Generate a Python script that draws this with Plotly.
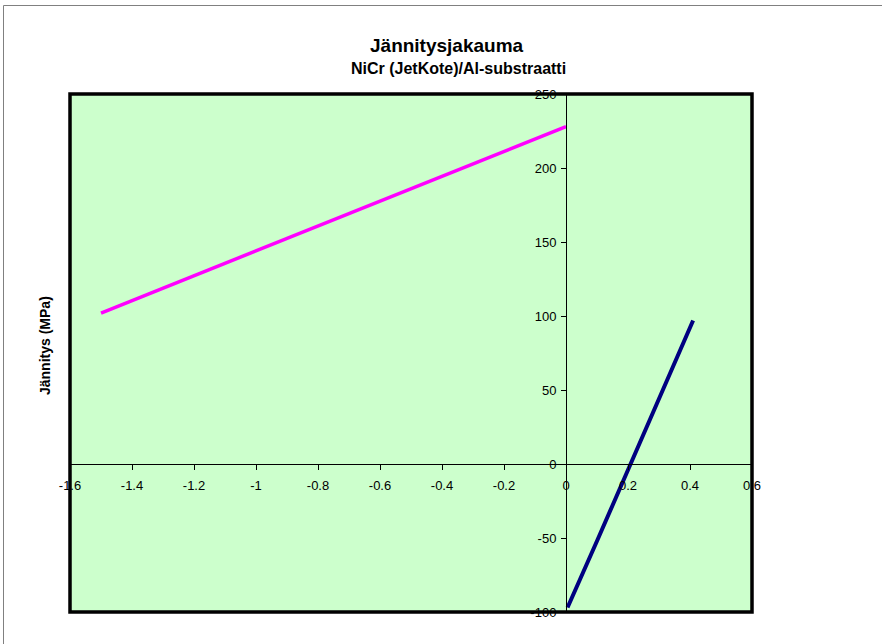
import plotly.graph_objects as go

# Data
coat_x = [-1.5, -1.0, -0.5, 0.0]
coat_y = [102, 144, 186, 228]
sub_x = [0.005, 0.05, 0.1, 0.15, 0.2, 0.25, 0.3, 0.35, 0.41]
sub_y = [-97, -75, -52, -28, -4, 20, 44, 68, 97]
x_ticks = [-1.6, -1.4, -1.2, -1, -0.8, -0.6, -0.4, -0.2, 0, 0.2, 0.4, 0.6]
y_ticks = [-100, -50, 0, 50, 100, 150, 200, 250]

title = "Jännitysjakauma"
subtitle = "NiCr (JetKote)/Al-substraatti"
y_title = "Jännitys (MPa)"

W, H = 882, 644
L, R, T, B = 70, 130, 94, 32
pw, ph = W - L - R, H - T - B

def px_x(px):
    return (px - L) / pw

def px_y(py):
    return (H - B - py) / ph

fig = go.Figure()
fig.add_trace(go.Scatter(x=coat_x, y=coat_y, mode="lines",
                         line=dict(color="#FF00FF", width=3.5), showlegend=False))
fig.add_trace(go.Scatter(x=sub_x, y=sub_y, mode="lines",
                         line=dict(color="#000080", width=4), showlegend=False))

xr = [-1.6, 0.6]
yr = [-100, 250]
fig.update_layout(
    width=W, height=H,
    margin=dict(l=L, r=R, t=T, b=B),
    paper_bgcolor="white",
    plot_bgcolor="#CCFFCC",
    font=dict(family="Liberation Sans, Arial, sans-serif", size=13, color="black"),
    xaxis=dict(range=xr, tickvals=x_ticks, ticktext=[f"{v:g}" for v in x_ticks],
               showgrid=False, zeroline=False, showline=True, linecolor="black", linewidth=1,
               ticks="outside", ticklen=5, tickcolor="black", ticklabelstandoff=4,
               anchor="free", position=(0 - yr[0]) / (yr[1] - yr[0]),
               tickfont=dict(size=13)),
    yaxis=dict(range=yr, tickvals=y_ticks, ticktext=[f"{v:g}" for v in y_ticks],
               showgrid=False, zeroline=False, showline=True, linecolor="black", linewidth=1,
               ticks="outside", ticklen=5, tickcolor="black", ticklabelstandoff=2,
               anchor="free", position=(0 - xr[0]) / (xr[1] - xr[0]),
               tickfont=dict(size=13)),
    shapes=[
        dict(type="rect", xref="paper", yref="paper", x0=0, y0=0, x1=1, y1=1,
             line=dict(color="black", width=3.5), layer="above"),
        dict(type="line", xref="paper", yref="paper", x0=px_x(3.5), y0=px_y(5.5),
             x1=px_x(3.5), y1=px_y(700), line=dict(color="#808080", width=1)),
        dict(type="line", xref="paper", yref="paper", x0=px_x(3.5), y0=px_y(5.5),
             x1=px_x(900), y1=px_y(5.5), line=dict(color="#808080", width=1)),
    ],
    annotations=[
        dict(text="<b>" + title + "</b>", xref="paper", yref="paper",
             x=px_x(447), y=px_y(45), showarrow=False, xanchor="center", yanchor="middle",
             font=dict(size=19)),
        dict(text="<b>" + subtitle + "</b>", xref="paper", yref="paper",
             x=px_x(458), y=px_y(68), showarrow=False, xanchor="center", yanchor="middle",
             font=dict(size=16)),
        dict(text="<b>" + y_title + "</b>", xref="paper", yref="paper",
             x=px_x(45), y=px_y(346), showarrow=False, textangle=-90,
             xanchor="center", yanchor="middle", font=dict(size=14)),
    ],
)

fig.write_html("out.html", config={"displayModeBar": False},
               post_script="document.body.style.margin='0';document.body.style.overflow='hidden';")
